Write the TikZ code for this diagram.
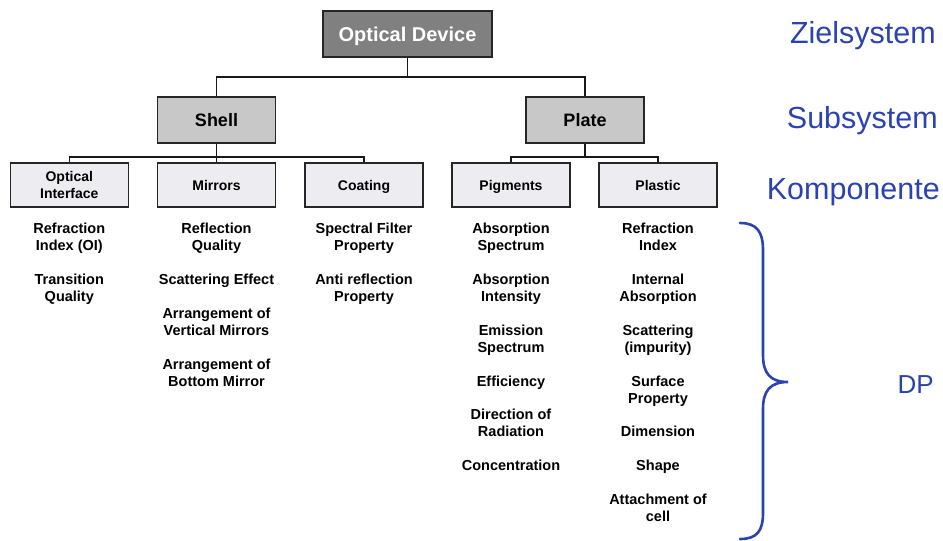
\documentclass[tikz,border=0pt]{standalone}
\usepackage{fontspec}
\setmainfont{Liberation Sans}
\definecolor{topfill}{RGB}{128,128,128}
\definecolor{subfill}{RGB}{200,200,200}
\definecolor{compfill}{RGB}{237,237,241}
\definecolor{lblue}{RGB}{42,66,178}
\tikzset{
  box/.style={draw=black!85, line width=1.2pt, inner sep=0pt, align=center, text depth=0pt},
  topbox/.style={box, fill=topfill, text=white, minimum width=169pt, minimum height=46pt,
    font=\bfseries\fontsize{20}{24}\selectfont},
  subbox/.style={box, fill=subfill, minimum width=118pt, minimum height=46pt,
    font=\bfseries\fontsize{18}{22}\selectfont},
  compbox/.style={box, fill=compfill, minimum width=118pt, minimum height=44pt,
    font=\bfseries\fontsize{14}{17}\selectfont},
  item/.style={anchor=north, inner sep=0pt, align=center,
    font=\bfseries\fontsize{14.5}{17}\selectfont},
  conn/.style={draw=black!90, line width=1.3pt},
  lvl/.style={anchor=base east, inner sep=0pt, text=lblue, font=\fontsize{30.5}{36}\selectfont},
}
\begin{document}
\begin{tikzpicture}[x=1pt,y=-1pt]
\useasboundingbox (0,0) rectangle (943,541);
% boxes
\node[topbox] (od) at (407.5,34) {Optical Device};
\node[subbox] (shell) at (216.5,120) {Shell};
\node[subbox] (plate) at (585,120) {Plate};
\node[compbox] (oi) at (69.3,185) {Optical\\Interface};
\node[compbox] (mir) at (216.5,185) {Mirrors};
\node[compbox] (coat) at (364,185) {Coating};
\node[compbox] (pig) at (511,185) {Pigments};
\node[compbox] (plas) at (658,185) {Plastic};
% connectors
\coordinate (b1) at (407.5,77);
\coordinate (b2) at (216.5,157);
\coordinate (b3) at (585,157);
\draw[conn] (od.south) -- (b1);
\draw[conn] (shell.north) |- (b1) -| (plate.north);
\draw[conn] (shell.south) -- (mir.north);
\draw[conn] (oi.north) |- (b2) -| (coat.north);
\draw[conn] (plate.south) -- (b3);
\draw[conn] (pig.north) |- (b3) -| (plas.north);
% items column 1
\node[item] (a1) at (69.3,222.5) {Refraction\\Index (OI)};
\node[item] (a2) at (69.3,273.5) {Transition\\Quality};
% column 2
\node[item] (b1t) at (216.5,222.5) {Reflection\\Quality};
\node[item] (b2t) at (216.5,273.5) {Scattering Effect};
\node[item] (b3t) at (216.5,307.5) {Arrangement of\\Vertical Mirrors};
\node[item] (b4t) at (216.5,358.5) {Arrangement of\\Bottom Mirror};
% column 3
\node[item] (c1) at (364,222.5) {Spectral Filter\\Property};
\node[item] (c2) at (364,273.5) {Anti reflection\\Property};
% column 4
\node[item] (d1) at (511,222.5) {Absorption\\Spectrum};
\node[item] (d2) at (511,273.5) {Absorption\\Intensity};
\node[item] (d3) at (511,324.5) {Emission\\Spectrum};
\node[item] (d4) at (511,375.5) {Efficiency};
\node[item] (d5) at (511,408.5) {Direction of\\Radiation};
\node[item] (d6) at (511,459.5) {Concentration};
% column 5
\node[item] (e1) at (658,222.5) {Refraction\\Index};
\node[item] (e2) at (658,273.5) {Internal\\Absorption};
\node[item] (e3) at (658,324.5) {Scattering\\(impurity)};
\node[item] (e4) at (658,375.5) {Surface\\Property};
\node[item] (e5) at (658,425.5) {Dimension};
\node[item] (e6) at (658,459.5) {Shape};
\node[item] (e7) at (658,493.5) {Attachment of\\cell};
% level labels
\node[lvl] (l1) at (936,43) {Zielsystem};
\node[lvl] (l2) at (938,128.5) {Subsystem};
\node[lvl] (l3) at (940,199.5) {Komponente};
\node[lvl, font=\fontsize{26}{30}\selectfont] (l4) at (934,393) {DP};
% brace
\draw[lblue, line width=2.6pt, line cap=round]
  (740,223) .. controls (757,223) and (763,232) .. (763,250)
  -- (763,355) .. controls (763,373) and (770,382) .. (788,382)
  .. controls (770,382) and (763,391) .. (763,409)
  -- (763,513) .. controls (763,531) and (757,539) .. (740,539);
\end{tikzpicture}
\end{document}
